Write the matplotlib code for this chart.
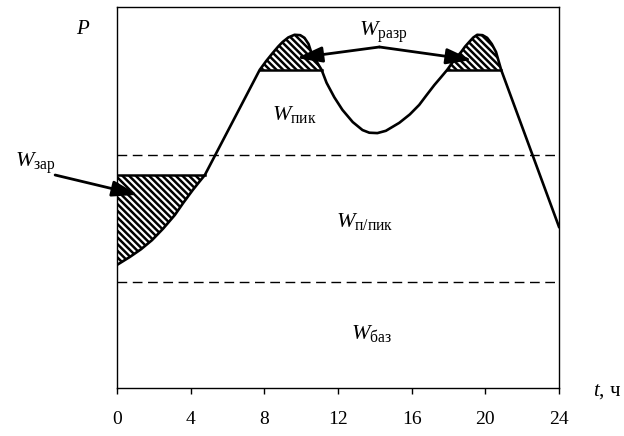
import matplotlib
matplotlib.use('Agg')
import matplotlib.pyplot as plt

plt.rcParams['font.family'] = ['Liberation Serif', 'DejaVu Serif']
plt.rcParams['mathtext.fontset'] = 'custom'
plt.rcParams['mathtext.rm'] = 'Liberation Serif'
plt.rcParams['mathtext.it'] = 'Liberation Serif:italic'
plt.rcParams['hatch.linewidth'] = 1.8

# load curve, hours vs P (arbitrary units 0..100)
t = [0, 0.3, 0.7, 1.3, 1.9, 2.5, 3.14, 3.6, 4.12, 4.45, 4.77,
     7.75, 8.1, 8.45, 8.75, 8.99, 9.3, 9.64, 9.95, 10.18, 10.4, 10.56, 11.11,
     11.38, 11.8, 12.24, 12.8, 13.33, 13.7, 14.14, 14.6, 15.33, 15.9, 16.41,
     16.8, 17.23, 17.6,
     17.93, 18.3, 18.69, 18.9, 19.12, 19.35, 19.56, 19.85, 20.10, 20.35, 20.58,
     20.86, 24]
p = [32.3, 33.2, 34.4, 36.4, 38.8, 41.8, 45.4, 48.6, 52.0, 54.0, 55.9,
     83.5, 85.8, 87.9, 89.6, 90.8, 92.0, 92.7, 92.6, 91.9, 90.3, 87.9, 83.5,
     80.1, 76.3, 73.0, 69.8, 67.7, 67.0, 66.9, 67.5, 69.6, 71.8, 74.3,
     76.8, 79.5, 81.6,
     83.5, 86.0, 88.2, 89.6, 90.8, 92.0, 92.7, 92.6, 91.9, 90.3, 88.2,
     83.5, 42.3]

p_zar = 55.9      # charge level
p_razr = 83.5     # discharge level
p_up = 61.2       # upper dashed
p_low = 27.8      # lower dashed
xticks = [0, 4, 8, 12, 16, 20, 24]

fig = plt.figure(figsize=(6.24, 4.36), dpi=100)
ax = fig.add_axes([0.1875, 0.1101, 0.7083, 0.8739])
ax.set_xlim(0, 24)
ax.set_ylim(0, 100)

hatch = '\\' * 5

# hatched areas
i_zar = t.index(4.77)
xs = t[:i_zar + 1] + [0]
ys = p[:i_zar + 1] + [p_zar]
ax.fill(xs, ys, facecolor='white', edgecolor='black', hatch=hatch, linewidth=0)
ax.plot([0, 4.77], [p_zar, p_zar], color='black', lw=1.8)

for a, b in [(7.75, 11.11), (17.93, 20.86)]:
    i0, i1 = t.index(a), t.index(b)
    ax.fill(t[i0:i1 + 1], p[i0:i1 + 1], facecolor='white', edgecolor='black',
            hatch=hatch, linewidth=0)
    ax.plot([a, b], [p_razr, p_razr], color='black', lw=1.8)

ax.plot(t, p, color='black', lw=1.9)
ax.axhline(p_up, color='black', lw=1, ls=(0, (7, 4)))
ax.axhline(p_low, color='black', lw=1, ls=(0, (7, 4)))

arr = dict(arrowstyle='-|>,head_length=1.3,head_width=0.4', color='black',
           lw=2, mutation_scale=12, shrinkA=0, shrinkB=0)
ax.annotate('', xy=(1.14, 50.7), xytext=(-3.36, 55.9), arrowprops=arr,
            annotation_clip=False)
ax.annotate('', xy=(9.75, 86.6), xytext=(14.25, 89.5), arrowprops=arr)
ax.annotate('', xy=(19.28, 86.1), xytext=(14.25, 89.5), arrowprops=arr)

fs = 16
ax.text(-1.84, 94.0, '$P$', fontsize=15, ha='center', va='center', clip_on=False)
ax.text(14.46, 93.4, r'$W_{\mathrm{разр}}$', fontsize=fs, ha='center', va='center')
ax.text(9.64, 71.7, r'$W_{\mathrm{пик}}$', fontsize=fs, ha='center', va='center')
ax.text(-4.44, 59.0, r'$W_{\mathrm{зар}}$', fontsize=fs, ha='center', va='center',
        clip_on=False)
ax.text(13.43, 43.6, r'$W_{\mathrm{п/пик}}$', fontsize=fs, ha='center', va='center')
ax.text(13.8, 14.4, r'$W_{\mathrm{баз}}$', fontsize=fs, ha='center', va='center')
ax.text(25.85, -1.0, '$t$, ч', fontsize=15, ha='left', va='center', clip_on=False)

ax.set_xticks(xticks)
ax.set_yticks([])
ax.tick_params(axis='x', direction='out', length=4.5, width=1, labelsize=14, pad=12)
for s in ax.spines.values():
    s.set_linewidth(1)

fig.savefig('out.png', dpi=100)
